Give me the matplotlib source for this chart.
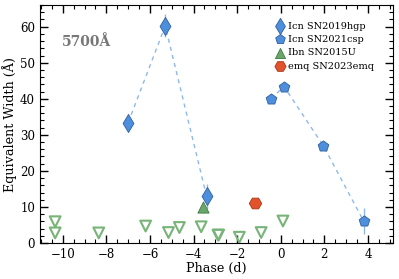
import matplotlib
matplotlib.use('Agg')
import matplotlib.pyplot as plt
from matplotlib.ticker import MultipleLocator

plt.rcParams['font.family'] = 'DejaVu Serif'
plt.rcParams['mathtext.fontset'] = 'dejavuserif'

# Icn SN2019hgp
hgp_phase = [-7.0, -5.3, -3.4]
hgp_ew = [33.4, 60.2, 12.9]
hgp_err = [1.0, 3.2, 3.6]

# Icn SN2021csp
csp_phase = [-0.45, 0.15, 1.95, 3.8]
csp_ew = [40.0, 43.4, 27.0, 6.1]
csp_err = [0.6, 0.8, 0.5, 3.6]

# Ibn SN2015U
u_phase = [-3.55]
u_ew = [10.1]

# emq SN2023emq
emq_phase = [-1.2]
emq_ew = [11.0]

# upper limits
lim_phase = [-10.35, -10.35, -8.35, -6.2, -5.15, -4.65, -3.65, -2.88, -2.85, -1.9, -0.9, 0.1]
lim_ew = [5.9, 2.8, 2.8, 4.7, 2.9, 4.3, 4.5, 2.2, 2.2, 1.6, 2.9, 6.1]

blue = '#4d8fdc'
blue_edge = '#2f5f9e'
line_blue = '#8fb8ec'
green = '#6aa56a'
green_edge = '#3f7a3f'
lim_green = '#78b478'
red = '#e2532b'
red_edge = '#a8361a'

fig = plt.figure(figsize=(3.99, 2.79), dpi=100)
ax = fig.add_axes([0.1, 0.129, 0.885, 0.853])

ax.plot(hgp_phase, hgp_ew, ls=(0, (3, 3)), color=line_blue, lw=1.0, zorder=1)
ax.plot(csp_phase, csp_ew, ls=(0, (3, 3)), color=line_blue, lw=1.0, zorder=1)
ax.errorbar(hgp_phase, hgp_ew, yerr=hgp_err, fmt='none', ecolor=line_blue, elinewidth=1.0, zorder=1)
ax.errorbar(csp_phase, csp_ew, yerr=csp_err, fmt='none', ecolor=line_blue, elinewidth=1.0, zorder=1)

ax.scatter(lim_phase, lim_ew, marker='v', s=60, facecolors='none',
           edgecolors=lim_green, linewidths=1.5, zorder=2)

ax.scatter(hgp_phase, hgp_ew, marker='d', s=85, color=blue, edgecolors=blue_edge,
           linewidths=0.6, zorder=3, label='Icn SN2019hgp')
ax.scatter(csp_phase, csp_ew, marker='p', s=65, color=blue, edgecolors=blue_edge,
           linewidths=0.6, zorder=3, label='Icn SN2021csp')
ax.scatter(u_phase, u_ew, marker='^', s=65, color=green, edgecolors=green_edge,
           linewidths=0.6, zorder=3, label='Ibn SN2015U')
ax.scatter(emq_phase, emq_ew, marker='H', s=80, color=red, edgecolors=red_edge,
           linewidths=0.6, zorder=3, label='emq SN2023emq')

ax.text(0.062, 0.845, '5700Å', transform=ax.transAxes, fontsize=10,
        fontweight='bold', color='#777777', ha='left', va='center')

ax.set_xlim(-11.05, 5.15)
ax.set_ylim(0, 66)
ax.xaxis.set_major_locator(MultipleLocator(2))
ax.xaxis.set_minor_locator(MultipleLocator(0.5))
ax.yaxis.set_major_locator(MultipleLocator(10))
ax.yaxis.set_minor_locator(MultipleLocator(2))
ax.tick_params(which='both', direction='in', top=True, right=True, labelsize=8.5)
ax.tick_params(which='major', length=6, width=1)
ax.tick_params(which='minor', length=3, width=0.8)

ax.set_xlabel('Phase (d)', fontsize=9.2, labelpad=1)
ax.set_ylabel('Equivalent Width (Å)', fontsize=9.2, labelpad=2)

ax.legend(loc='upper right', frameon=False, fontsize=7, handletextpad=0.35,
          handlelength=1.0, labelspacing=0.45, borderaxespad=1.3,
          bbox_to_anchor=(0.993, 1.0), markerscale=0.9)

fig.savefig('out.png', dpi=100)
